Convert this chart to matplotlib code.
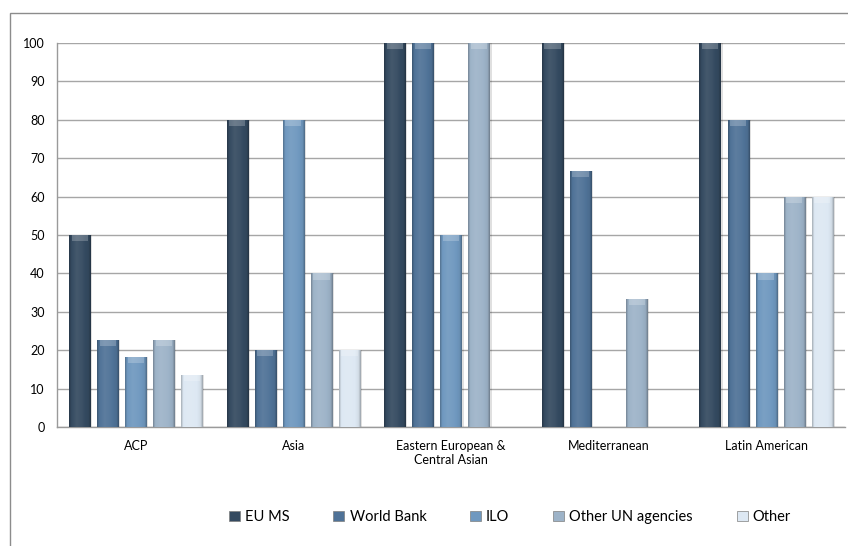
import numpy as np
import matplotlib
matplotlib.use("Agg")
import matplotlib.pyplot as plt
from matplotlib.colors import to_rgb
from matplotlib.patches import Rectangle

categories = ["ACP", "Asia", "Eastern European &\nCentral Asian", "Mediterranean", "Latin American"]
series_names = ["EU MS", "World Bank", "ILO", "Other UN agencies", "Other"]
eu_ms = [50.0, 80.0, 100.0, 100.0, 100.0]
world_bank = [22.7, 20.0, 100.0, 66.7, 80.0]
ilo = [18.2, 80.0, 50.0, 0.0, 40.0]
other_un = [22.7, 40.0, 100.0, 33.3, 60.0]
other = [13.6, 20.0, 0.0, 0.0, 60.0]
yticks = [0, 10, 20, 30, 40, 50, 60, 70, 80, 90, 100]

series_values = [eu_ms, world_bank, ilo, other_un, other]
colors = ["#344a60", "#4f7297", "#6f98bf", "#9db3c8", "#dde8f3"]

plt.rcParams["font.family"] = ["Lato", "DejaVu Sans"]

W, H = 848, 546
fig = plt.figure(figsize=(W / 100, H / 100), dpi=100)

# outer chart frame
fig.patches.append(Rectangle((10 / W, -0.1), 1.2, 1 - 13 / H + 0.1,
                             transform=fig.transFigure, fill=False,
                             edgecolor="#8c8c8c", linewidth=1.0))

ax = fig.add_axes([57 / W, 1 - 427 / H, (845 - 57) / W, (427 - 43) / H])
ax.set_xlim(-0.5, len(categories) - 0.5)
ax.set_ylim(0, 100)
ax.set_yticks(yticks)
ax.tick_params(axis="y", length=0, labelsize=9, pad=9, colors="black")
ax.tick_params(axis="x", length=0, labelsize=9, pad=9)
ax.set_xticks(range(len(categories)))
ax.set_xticklabels(categories)
ax.yaxis.grid(True, color="#a6a6a6", linewidth=1.0)
ax.set_axisbelow(True)
for s in ["top", "right"]:
    ax.spines[s].set_visible(False)
for s in ["left", "bottom"]:
    ax.spines[s].set_color("#9a9a9a")
    ax.spines[s].set_linewidth(1.0)

bar_w = 0.135
step = 0.178
offsets = (np.arange(len(series_values)) - 2) * step

# horizontal shading profile for a rounded bar look
xs = np.linspace(0, 1, 64)
shade = np.interp(xs, [0, 0.1, 0.35, 0.6, 0.9, 1.0], [-0.25, 0.0, 0.08, 0.04, -0.05, -0.3])


def shaded_colors(col):
    base = np.array(to_rgb(col))
    out = []
    for s in shade:
        if s >= 0:
            out.append(base + (1 - base) * s)
        else:
            out.append(base * (1 + s))
    return np.clip(np.array(out), 0, 1)


for si, (vals, col) in enumerate(zip(series_values, colors)):
    grad = shaded_colors(col)[None, :, :]
    for ci, v in enumerate(vals):
        if v <= 0:
            continue
        x0 = ci + offsets[si] - bar_w / 2
        # soft shadow on the right side
        ax.add_patch(Rectangle((x0 + 0.012, 0), bar_w, v, facecolor="#000000",
                               alpha=0.12, edgecolor="none", zorder=2))
        rect = Rectangle((x0, 0), bar_w, v, facecolor=col, edgecolor="none", zorder=3)
        ax.add_patch(rect)
        im = ax.imshow(grad, extent=(x0, x0 + bar_w, 0, v), aspect="auto",
                       zorder=3.5, interpolation="bilinear")
        im.set_clip_path(rect)
        # lighter top cap
        cap_h = 1.6
        cap = Rectangle((x0 + bar_w * 0.12, v - cap_h), bar_w * 0.76, cap_h,
                        facecolor="white", alpha=0.22, edgecolor="none", zorder=4)
        ax.add_patch(cap)

ax.set_xlim(-0.5, len(categories) - 0.5)
ax.set_ylim(0, 100)

# legend
handles = [Rectangle((0, 0), 1, 1, facecolor=c, edgecolor="#7f7f7f", linewidth=0.5) for c in colors]
leg = fig.legend(handles, series_names, loc="center", bbox_to_anchor=(510 / W, 1 - 517 / H),
                 ncol=5, frameon=False, fontsize=10.5, handlelength=0.75, handleheight=0.75,
                 handletextpad=0.35, columnspacing=3.0)

fig.savefig("out.png", dpi=100)
